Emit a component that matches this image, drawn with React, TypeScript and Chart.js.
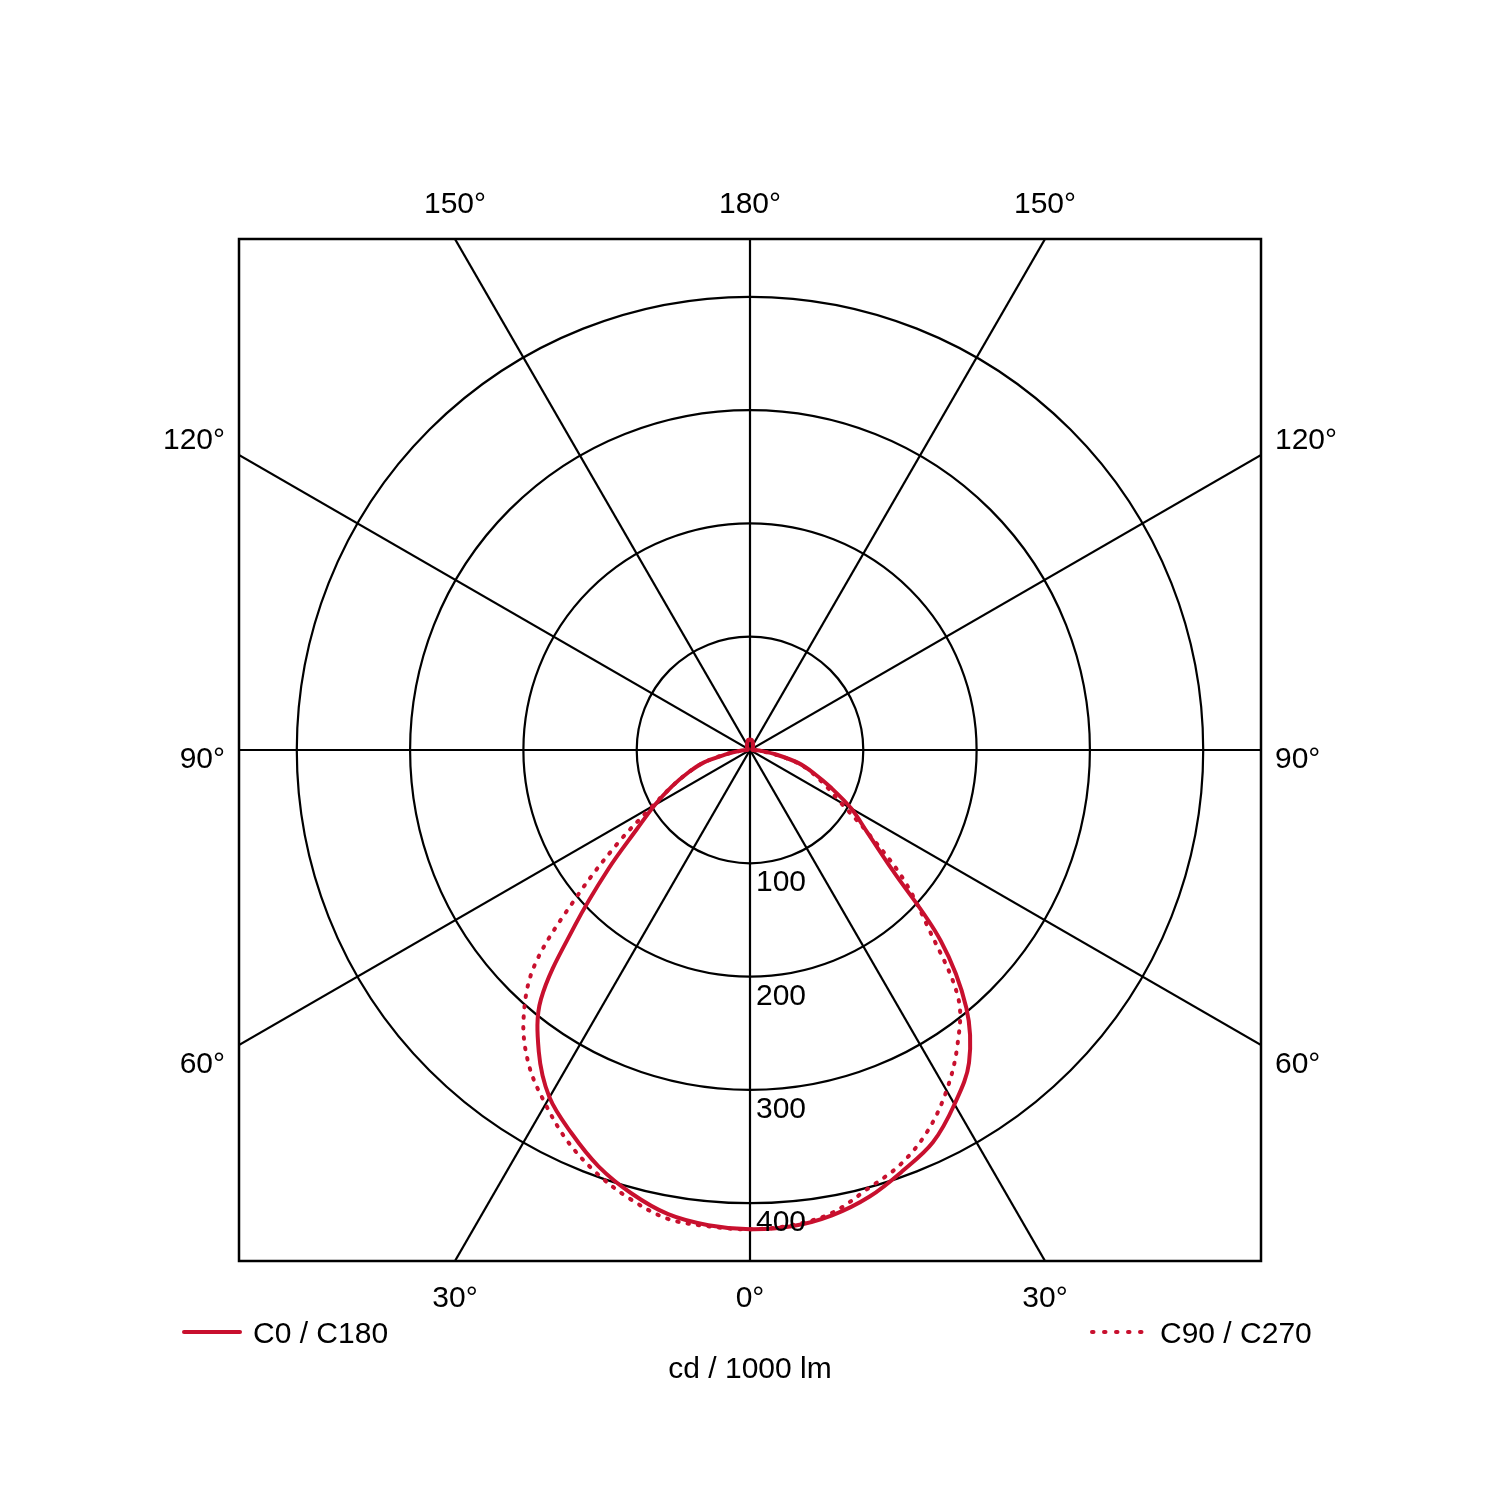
import React, { useEffect, useRef } from "react";
import { Chart, registerables } from "chart.js";

Chart.register(...registerables);

// Gamma angles (degrees from nadir), 5° steps
const angles: number[] = [
  0, 5, 10, 15, 20, 25, 30, 35, 40, 45, 50, 55, 60, 65, 70, 75, 80, 85, 90,
  95, 100, 105, 110, 115, 120, 125, 130, 135, 140, 145, 150, 155, 160, 165, 170, 175, 180,
];

// C0 / C180 plane (solid): left half = C0, right half = C180
const c0: number[] = [
  423, 421, 416, 405, 391, 373, 354, 325, 287, 218, 163, 122, 97, 76, 58, 42, 20, 9, 3,
  2, 2, 2, 2, 3, 3, 3, 3, 4, 4, 5, 5, 6, 7, 8, 9, 9, 9,
];
const c180: number[] = [
  423, 422, 417, 408, 395, 382, 361, 337, 297, 238, 163, 126, 103, 79, 60, 44, 24, 10, 3,
  2, 2, 2, 2, 3, 3, 3, 3, 4, 4, 5, 5, 6, 7, 8, 9, 9, 9,
];

// C90 / C270 plane (dotted): left half = C90, right half = C270
const c90: number[] = [
  423, 422, 420, 410, 397, 381, 361, 340, 311, 269, 197, 141, 100, 76, 58, 42, 22, 9, 3,
  2, 2, 2, 2, 3, 3, 3, 3, 4, 4, 5, 5, 6, 7, 8, 9, 9, 9,
];
const c270: number[] = [
  423, 421, 415, 401, 389, 371, 347, 319, 286, 223, 176, 126, 92, 73, 58, 43, 22, 9, 3,
  2, 2, 2, 2, 3, 3, 3, 3, 4, 4, 5, 5, 6, 7, 8, 9, 9, 9,
];

const rings: number[] = [100, 200, 300, 400];
const ringLabels: string[] = ["100", "200", "300", "400"];
const spokeAngles: number[] = [0, 30, 60, 90, 120, 150];
const topLabels: string[] = ["150°", "180°", "150°"];
const bottomLabels: string[] = ["30°", "0°", "30°"];
const sideLabels: string[] = ["120°", "90°", "60°"];
const seriesNames: string[] = ["C0 / C180", "C90 / C270"];
const unitLabel = "cd / 1000 lm";

const RMAX = 451;
const RED = "#c8102e";
const FONT = '30px "Liberation Sans", Arial, sans-serif';

function toXY(left: number[], right: number[]) {
  const pts: { x: number; y: number }[] = [];
  for (let i = angles.length - 1; i >= 0; i--) {
    const t = (angles[i] * Math.PI) / 180;
    pts.push({ x: -left[i] * Math.sin(t), y: -left[i] * Math.cos(t) });
  }
  for (let i = 1; i < angles.length; i++) {
    const t = (angles[i] * Math.PI) / 180;
    pts.push({ x: right[i] * Math.sin(t), y: -right[i] * Math.cos(t) });
  }
  return pts;
}

const gridPlugin = {
  id: "polarGrid",
  beforeDatasetsDraw(chart: any) {
    const { ctx, chartArea, scales } = chart;
    const xs = scales.x;
    const ys = scales.y;
    const cx = xs.getPixelForValue(0);
    const cy = ys.getPixelForValue(0);
    ctx.save();
    ctx.beginPath();
    ctx.rect(chartArea.left, chartArea.top, chartArea.right - chartArea.left, chartArea.bottom - chartArea.top);
    ctx.clip();
    ctx.strokeStyle = "#000";
    ctx.lineWidth = 2.2;
    for (const a of spokeAngles) {
      const t = (a * Math.PI) / 180;
      const dx = Math.sin(t) * 2000;
      const dy = Math.cos(t) * 2000;
      ctx.beginPath();
      ctx.moveTo(cx - dx, cy - dy);
      ctx.lineTo(cx + dx, cy + dy);
      ctx.stroke();
    }
    for (const r of rings) {
      const rp = xs.getPixelForValue(r) - cx;
      ctx.beginPath();
      ctx.arc(cx, cy, rp, 0, Math.PI * 2);
      ctx.stroke();
    }
    ctx.restore();
  },
  afterDraw(chart: any) {
    const { ctx, chartArea, scales } = chart;
    const xs = scales.x;
    const ys = scales.y;
    const cx = xs.getPixelForValue(0);
    const cy = ys.getPixelForValue(0);
    const { left, right, top, bottom } = chartArea;
    ctx.save();
    // frame
    ctx.strokeStyle = "#000";
    ctx.lineWidth = 2.5;
    ctx.strokeRect(left, top, right - left, bottom - top);

    ctx.fillStyle = "#000";
    ctx.font = FONT;
    ctx.textBaseline = "alphabetic";
    // top & bottom angle labels at spoke/frame intersections
    const half = (bottom - top) / 2;
    const off = half * Math.tan(Math.PI / 6);
    const xsPos = [cx - off, cx, cx + off];
    ctx.textAlign = "center";
    topLabels.forEach((s, i) => ctx.fillText(s, xsPos[i], top - 26));
    bottomLabels.forEach((s, i) => ctx.fillText(s, xsPos[i], bottom + 46));
    // side labels
    const sideY = [cy - 301, cy + 18, cy + 323];
    ctx.textAlign = "right";
    sideLabels.forEach((s, i) => ctx.fillText(s, left - 14, sideY[i]));
    ctx.textAlign = "left";
    sideLabels.forEach((s, i) => ctx.fillText(s, right + 14, sideY[i]));
    // ring labels
    rings.forEach((r, i) => {
      const py = ys.getPixelForValue(-r);
      ctx.fillText(ringLabels[i], cx + 6, py + 28);
    });
    // legend
    const ly = bottom + 71;
    ctx.strokeStyle = RED;
    ctx.lineWidth = 4;
    ctx.lineCap = "round";
    ctx.beginPath();
    ctx.moveTo(left - 55, ly);
    ctx.lineTo(left + 1, ly);
    ctx.stroke();
    ctx.setLineDash([1.5, 10.5]);
    ctx.beginPath();
    ctx.moveTo(right - 169, ly);
    ctx.lineTo(right - 117, ly);
    ctx.stroke();
    ctx.setLineDash([]);
    ctx.fillStyle = "#000";
    ctx.textAlign = "left";
    ctx.fillText(seriesNames[0], left + 14, ly + 11);
    ctx.fillText(seriesNames[1], right - 101, ly + 11);
    ctx.textAlign = "center";
    ctx.fillText(unitLabel, cx, bottom + 117);
    ctx.restore();
  },
};

export default function App() {
  const ref = useRef<HTMLCanvasElement | null>(null);
  useEffect(() => {
    if (!ref.current) return;
    const chart = new Chart(ref.current, {
      type: "scatter",
      data: {
        datasets: [
          {
            label: seriesNames[0],
            data: toXY(c0, c180),
            showLine: true,
            borderColor: RED,
            borderWidth: 4,
            pointRadius: 0,
            tension: 0.35,
            fill: false,
          },
          {
            label: seriesNames[1],
            data: toXY(c90, c270),
            showLine: true,
            borderColor: RED,
            borderWidth: 4,
            borderDash: [1.5, 9],
            borderCapStyle: "round",
            pointRadius: 0,
            tension: 0.35,
            fill: false,
          },
        ],
      },
      options: {
        animation: false,
        responsive: false,
        layout: { padding: { left: 239, right: 239, top: 239, bottom: 239 } },
        scales: {
          x: { type: "linear", min: -RMAX, max: RMAX, display: false },
          y: { type: "linear", min: -RMAX, max: RMAX, display: false },
        },
        plugins: { legend: { display: false }, tooltip: { enabled: false } },
      },
      plugins: [gridPlugin],
    });
    return () => chart.destroy();
  }, []);
  return (
    <div style={{ position: "absolute", left: 0, top: 0, width: 1500, height: 1500, background: "#fff" }}>
      <canvas ref={ref} width={1500} height={1500} />
    </div>
  );
}
